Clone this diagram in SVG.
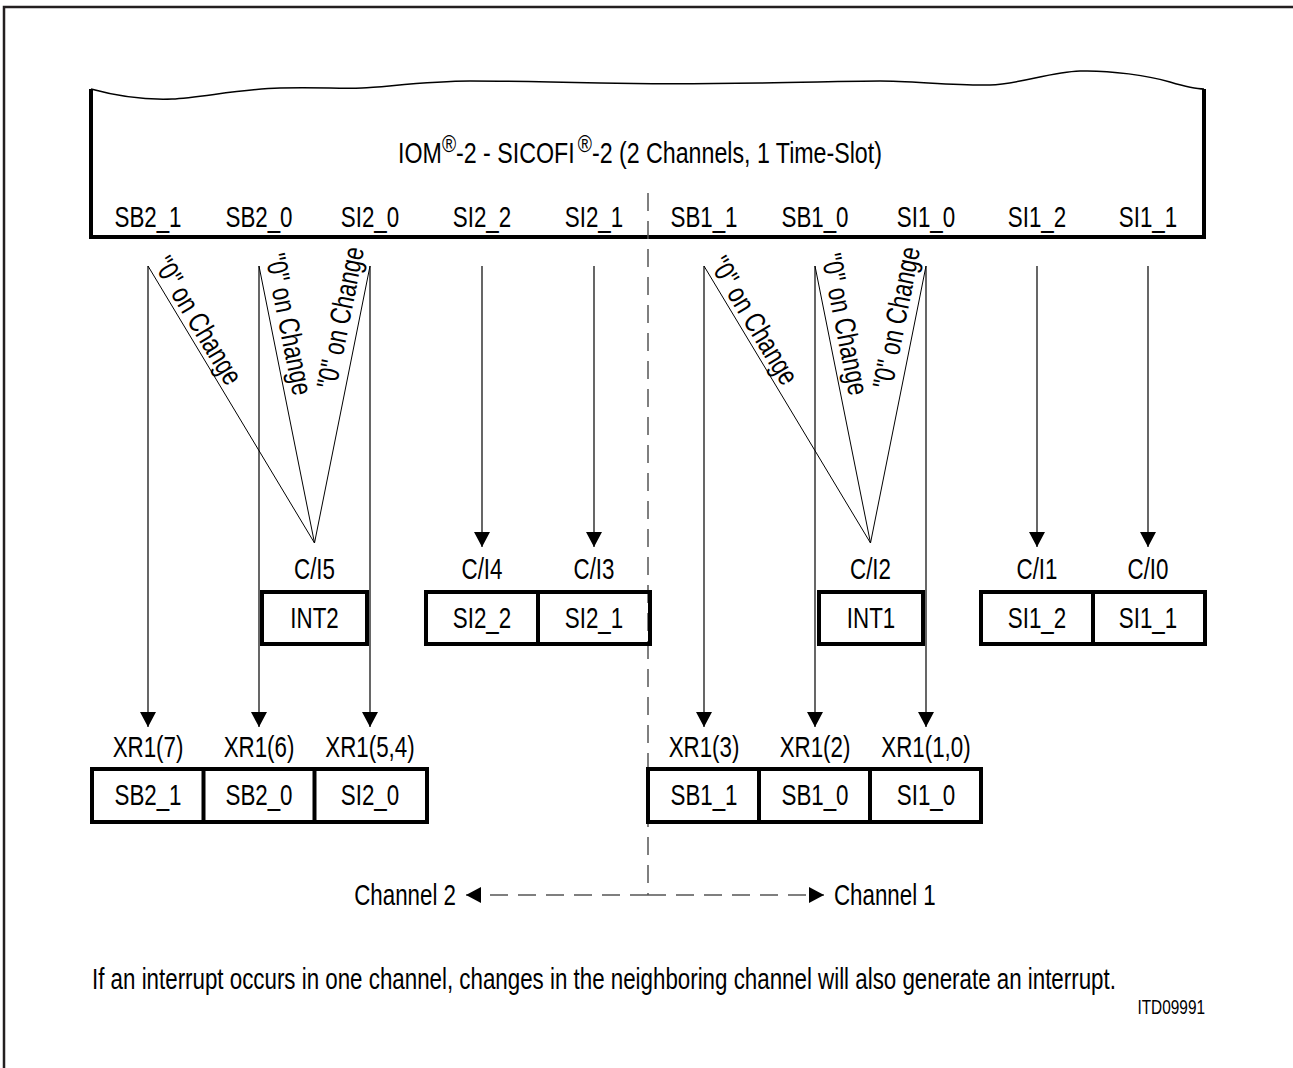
<svg xmlns="http://www.w3.org/2000/svg" width="1293" height="1068" viewBox="0 0 1293 1068">
<style>
.t{font-family:"Liberation Sans",Arial,sans-serif;font-size:29px;fill:#000;text-anchor:middle}
.s{text-anchor:start}
.e{text-anchor:end}
.sm{font-size:20px}
.box{fill:none;stroke:#000;stroke-width:4}
.ln{fill:none;stroke:#000;stroke-width:1.2}
.fan{fill:none;stroke:#000;stroke-width:1}
.dash{fill:none;stroke:#555;stroke-width:1.5;stroke-dasharray:18 10}
</style>
<defs>
<marker id="ah" viewBox="0 0 15 16" refX="15" refY="8" markerWidth="15" markerHeight="16" markerUnits="userSpaceOnUse" orient="auto"><path d="M0,0L15,8L0,16z" fill="#000"/></marker>
</defs>
<rect width="1293" height="1068" fill="#fff"/>
<path d="M4,1068V7H1293" fill="none" stroke="#231f20" stroke-width="2.5"/>

<g id="header">
<path d="M91,89 C120,97 145,100 172,99 S240,89 280,88 S340,89 362,88 S430,81 470,81 S560,82 600,83 S700,84 760,83 S850,81 880,81 S960,86 990,85 S1050,72 1080,71 S1150,76 1170,82 S1198,89 1204,89" fill="none" stroke="#000" stroke-width="1.5"/>
<path d="M91,89V237H1204V89" class="box"/>
<text class="t" transform="translate(640,163) scale(0.8,1)">IOM<tspan style="font-size:24px" dy="-11">®</tspan><tspan dy="11">-2 - SICOFI</tspan><tspan style="font-size:24px" dy="-11" dx="4">®</tspan><tspan dy="11">-2 (2 Channels, 1 Time-Slot)</tspan></text>
<text class="t" transform="translate(148,227) scale(0.77,1)">SB2_1</text>
<text class="t" transform="translate(259,227) scale(0.77,1)">SB2_0</text>
<text class="t" transform="translate(370,227) scale(0.77,1)">SI2_0</text>
<text class="t" transform="translate(482,227) scale(0.77,1)">SI2_2</text>
<text class="t" transform="translate(594,227) scale(0.77,1)">SI2_1</text>
<text class="t" transform="translate(704,227) scale(0.77,1)">SB1_1</text>
<text class="t" transform="translate(815,227) scale(0.77,1)">SB1_0</text>
<text class="t" transform="translate(926,227) scale(0.77,1)">SI1_0</text>
<text class="t" transform="translate(1037,227) scale(0.77,1)">SI1_2</text>
<text class="t" transform="translate(1148,227) scale(0.77,1)">SI1_1</text>
</g>

<g id="connectors">
<path class="dash" d="M648,193V895"/>
<path class="dash" d="M648,895H466" marker-end="url(#ah)"/>
<path class="dash" d="M648,895H824" marker-end="url(#ah)"/>
<path class="ln" d="M148,266V727" marker-end="url(#ah)"/>
<path class="ln" d="M259,266V727" marker-end="url(#ah)"/>
<path class="ln" d="M370,266V727" marker-end="url(#ah)"/>
<path class="fan" d="M148,266L314.5,543L259,266M314.5,543L370,266"/>
<path class="ln" d="M482,266V547" marker-end="url(#ah)"/>
<path class="ln" d="M594,266V547" marker-end="url(#ah)"/>
<path class="ln" d="M704,266V727" marker-end="url(#ah)"/>
<path class="ln" d="M815,266V727" marker-end="url(#ah)"/>
<path class="ln" d="M926,266V727" marker-end="url(#ah)"/>
<path class="fan" d="M704,266L870.5,543L815,266M870.5,543L926,266"/>
<path class="ln" d="M1037,266V547" marker-end="url(#ah)"/>
<path class="ln" d="M1148,266V547" marker-end="url(#ah)"/>
<g id="fan-labels">
<text class="t s" transform="translate(152.6,264) rotate(59) scale(0.77,1)">"0" on Change</text>
<text class="t s" transform="translate(265.1,255.7) rotate(78.7) scale(0.77,1)">"0" on Change</text>
<text class="t s" transform="translate(336,390) rotate(-78.7) scale(0.77,1)">"0" on Change</text>
<text class="t s" transform="translate(708.6,264) rotate(59) scale(0.77,1)">"0" on Change</text>
<text class="t s" transform="translate(821.1,255.7) rotate(78.7) scale(0.77,1)">"0" on Change</text>
<text class="t s" transform="translate(892,390) rotate(-78.7) scale(0.77,1)">"0" on Change</text>
</g>
<text class="t e" transform="translate(456,905) scale(0.77,1)">Channel 2</text>
<text class="t s" transform="translate(834,905) scale(0.77,1)">Channel 1</text>
</g>

<g id="node-int2">
<text class="t" transform="translate(314.5,579) scale(0.77,1)">C/I5</text>
<rect class="box" x="262" y="592" width="105" height="52"/>
<text class="t" transform="translate(314.5,628) scale(0.77,1)">INT2</text>
</g>
<g id="node-si2">
<text class="t" transform="translate(482,579) scale(0.77,1)">C/I4</text>
<text class="t" transform="translate(594,579) scale(0.77,1)">C/I3</text>
<rect class="box" x="426" y="592" width="224" height="52"/>
<path class="box" d="M538,592V644"/>
<text class="t" transform="translate(482,628) scale(0.77,1)">SI2_2</text>
<text class="t" transform="translate(594,628) scale(0.77,1)">SI2_1</text>
</g>
<g id="node-int1">
<text class="t" transform="translate(870.5,579) scale(0.77,1)">C/I2</text>
<rect class="box" x="819" y="592" width="104" height="52"/>
<text class="t" transform="translate(871,628) scale(0.77,1)">INT1</text>
</g>
<g id="node-si1">
<text class="t" transform="translate(1037,579) scale(0.77,1)">C/I1</text>
<text class="t" transform="translate(1148,579) scale(0.77,1)">C/I0</text>
<rect class="box" x="981" y="592" width="224" height="52"/>
<path class="box" d="M1093,592V644"/>
<text class="t" transform="translate(1037,628) scale(0.77,1)">SI1_2</text>
<text class="t" transform="translate(1148,628) scale(0.77,1)">SI1_1</text>
</g>
<g id="node-xr-ch2">
<text class="t" transform="translate(148,757) scale(0.77,1)">XR1(7)</text>
<text class="t" transform="translate(259,757) scale(0.77,1)">XR1(6)</text>
<text class="t" transform="translate(370,757) scale(0.77,1)">XR1(5,4)</text>
<rect class="box" x="92" y="769" width="335" height="53"/>
<path class="box" d="M203.5,769V822M314.5,769V822"/>
<text class="t" transform="translate(148,805) scale(0.77,1)">SB2_1</text>
<text class="t" transform="translate(259,805) scale(0.77,1)">SB2_0</text>
<text class="t" transform="translate(370,805) scale(0.77,1)">SI2_0</text>
</g>
<g id="node-xr-ch1">
<text class="t" transform="translate(704,757) scale(0.77,1)">XR1(3)</text>
<text class="t" transform="translate(815,757) scale(0.77,1)">XR1(2)</text>
<text class="t" transform="translate(926,757) scale(0.77,1)">XR1(1,0)</text>
<rect class="box" x="648" y="769" width="333" height="53"/>
<path class="box" d="M759,769V822M870,769V822"/>
<text class="t" transform="translate(704,805) scale(0.77,1)">SB1_1</text>
<text class="t" transform="translate(815,805) scale(0.77,1)">SB1_0</text>
<text class="t" transform="translate(926,805) scale(0.77,1)">SI1_0</text>
</g>

<g id="footer">
<text class="t s" transform="translate(92,989) scale(0.77,1)">If an interrupt occurs in one channel, changes in the neighboring channel will also generate an interrupt.</text>
<text class="t e sm" transform="translate(1205,1014) scale(0.77,1)">ITD09991</text>
</g>
</svg>
